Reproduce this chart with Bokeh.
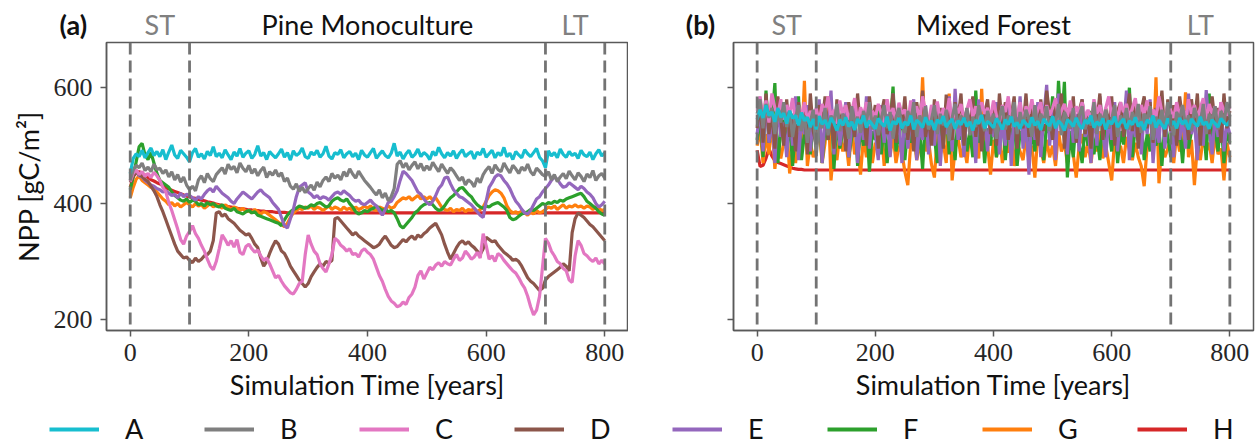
from bokeh.plotting import figure
from bokeh.models import Range1d, FixedTicker, Span, Label, Legend, LegendItem
from bokeh.layouts import row, column
from bokeh.embed import file_html
from bokeh.resources import INLINE

# ---------------- data ----------------
years = list(range(0, 801, 5))
names = ["A", "B", "C", "D", "E", "F", "G", "H"]
colors = ["#17becf", "#7f7f7f", "#e377c2", "#8c564b", "#9467bd", "#2ca02c", "#ff7f0e", "#d62728"]
marker_years = [0, 100, 700, 800]
phase_labels = ["ST", "LT"]
phase_centers = [50, 750]
x_ticks = [0, 200, 400, 600, 800]
y_ticks = [200, 400, 600]
panel_tags = ["(a)", "(b)"]
panel_titles = ["Pine Monoculture", "Mixed Forest"]

# Panel (a): Pine Monoculture, NPP in gC/m2 every 5 years
A_pine = [452, 478, 486, 481, 492, 479, 488, 496, 483, 490,
          481, 493, 476, 489, 501, 484, 478, 492, 486, 480,
          472, 488, 495, 480, 486, 477, 490, 483, 498, 481,
          487, 479, 493, 484, 476, 489, 482, 495, 480, 487,
          491, 478, 485, 500, 482, 488, 476, 490, 484, 479,
          486, 494, 480, 488, 475, 491, 483, 487, 496, 481,
          478, 489, 484, 492, 480, 486, 499, 482, 477, 488,
          485, 493, 479, 486, 490, 481, 487, 476, 492, 484,
          480, 488, 495, 478, 485, 491, 483, 479, 487, 504,
          482, 489, 477, 486, 492, 480, 485, 494, 481, 488,
          484, 476, 490, 483, 497, 486, 479, 488, 482, 491,
          478, 487, 493, 481, 486, 490, 477, 489, 484, 495,
          480, 486, 492, 479, 488, 483, 497, 481, 487, 476,
          490, 484, 479, 493, 486, 481, 488, 495, 480, 474,
          462, 491, 482, 488, 479, 494, 485, 480, 490, 483,
          487, 478, 492, 484, 481, 489, 476, 486, 493, 482,
          488]
B_pine = [440, 458, 466, 462, 470, 457, 463, 455, 468, 459,
          461, 452, 458, 446, 455, 441, 450, 437, 446, 432,
          424, 430, 422, 441, 448, 436, 452, 443, 438, 450,
          456, 462, 451, 468, 459, 464, 453, 470, 461, 455,
          466, 452, 460, 448, 457, 463, 445, 455, 449, 458,
          447, 453, 438, 444, 430, 425, 434, 421, 428, 419,
          426, 432, 423, 437, 429, 440, 446, 438, 452, 444,
          449, 441, 455, 447, 460, 451, 444, 456, 448, 440,
          434, 428, 421, 415, 424, 410, 418, 405, 412, 426,
          468, 474, 462, 470, 458, 466, 472, 460, 469, 457,
          465, 458, 471, 463, 455, 468, 460, 452, 462, 456,
          448, 440, 446, 432, 441, 437, 429, 444, 436, 450,
          458, 464, 452, 467, 459, 455, 470, 461, 453, 466,
          460, 452, 463, 457, 468, 455, 449, 461, 456, 450,
          447, 455, 441, 450, 438, 446, 452, 443, 456, 448,
          441, 453, 447, 438, 451, 445, 457, 440, 448, 452,
          444]
C_pine = [438, 452, 458, 450, 455, 447, 452, 445, 454, 448,
          440, 428, 420, 402, 388, 372, 356, 338, 330, 344,
          352, 362, 348, 340, 328, 318, 304, 292, 286, 300,
          322, 346, 338, 328, 336, 325, 338, 316, 312, 326,
          330, 322, 316, 320, 310, 302, 306, 296, 284, 272,
          276, 266, 258, 252, 246, 244, 252, 262, 266, 312,
          346, 330, 318, 312, 296, 288, 282, 296, 312, 340,
          336, 328, 324, 318, 322, 312, 314, 308, 318, 322,
          316, 312, 304, 290, 276, 266, 252, 240, 232, 228,
          222, 224, 230, 226, 238, 244, 256, 276, 284, 270,
          280, 290, 286, 294, 298, 292, 300, 296, 294, 304,
          312, 302, 306, 318, 312, 304, 308, 316, 306, 348,
          328, 304, 310, 300, 314, 310, 302, 296, 290, 284,
          280, 272, 262, 254, 240, 222, 208, 216, 240, 290,
          340, 332, 318, 310, 300, 296, 288, 284, 268, 264,
          310, 336, 328, 314, 310, 304, 300, 306, 296, 302,
          296]
D_pine = [436, 448, 454, 450, 447, 442, 438, 430, 422, 412,
          398, 386, 372, 358, 344, 330, 318, 312, 306, 308,
          302, 298, 306, 300, 304, 310, 312, 318, 336, 384,
          386, 378, 382, 374, 370, 366, 360, 354, 350, 346,
          348, 340, 330, 324, 306, 292, 300, 314, 326, 336,
          330, 318, 314, 304, 292, 284, 276, 268, 262, 256,
          262, 274, 282, 290, 296, 292, 300, 298, 302, 374,
          376, 370, 364, 358, 352, 346, 350, 344, 340, 336,
          332, 328, 324, 326, 330, 338, 344, 336, 328, 324,
          326, 332, 338, 334, 340, 344, 338, 346, 342, 348,
          352, 358, 362, 366, 356, 346, 330, 316, 304, 314,
          324, 332, 336, 330, 334, 328, 324, 318, 312, 322,
          342, 338, 334, 336, 328, 322, 316, 312, 308, 302,
          304, 300, 292, 282, 272, 266, 262, 256, 250, 254,
          268, 274, 278, 282, 286, 290, 296, 292, 284, 350,
          374, 384, 380, 376, 370, 364, 360, 354, 348, 342,
          336]
E_pine = [440, 450, 454, 448, 446, 440, 436, 432, 430, 426,
          424, 420, 422, 418, 414, 416, 410, 418, 412, 416,
          414, 410, 406, 412, 408, 416, 422, 426, 420, 430,
          424, 418, 414, 410, 404, 400, 408, 414, 420, 416,
          412, 408, 414, 420, 424, 418, 414, 410, 402, 396,
          390, 376, 362, 358, 374, 390, 412, 428, 432, 436,
          420, 416, 410, 414, 408, 412, 410, 406, 412, 418,
          420, 416, 422, 418, 414, 408, 404, 406, 400, 398,
          402, 406, 400, 396, 388, 380, 390, 402, 404, 412,
          422, 440, 456, 452, 446, 440, 430, 420, 416, 408,
          402, 398, 404, 414, 426, 432, 444, 446, 434, 424,
          418, 412, 410, 406, 402, 398, 392, 386, 380, 376,
          404, 428, 436, 446, 450, 448, 440, 434, 426, 414,
          404, 398, 390, 384, 382, 388, 398, 408, 412, 420,
          426, 432, 440, 446, 442, 434, 428, 430, 436, 432,
          428, 424, 430, 426, 420, 416, 410, 400, 394, 398,
          404]
F_pine = [424, 446, 472, 498, 504, 484, 476, 488, 470, 452,
          440, 436, 432, 428, 420, 414, 410, 406, 404, 408,
          402, 406, 404, 398, 400, 396, 402, 398, 400, 396,
          394, 398, 392, 390, 388, 392, 386, 384, 382, 386,
          388, 384, 386, 380, 378, 376, 374, 372, 370, 368,
          366, 362, 372, 380, 386, 390, 392, 396, 394, 392,
          394, 398, 396, 400, 402, 398, 394, 396, 404, 408,
          410, 406, 404, 408, 400, 394, 386, 382, 384, 388,
          386, 390, 392, 396, 392, 388, 390, 386, 388, 384,
          374, 362, 358, 364, 370, 376, 384, 388, 394, 398,
          400, 402, 398, 392, 388, 390, 396, 404, 410, 414,
          420, 426, 428, 422, 416, 412, 404, 398, 394, 392,
          396, 394, 398, 400, 402, 398, 394, 388, 376, 372,
          374, 378, 382, 384, 386, 390, 388, 392, 396, 400,
          398, 402, 400, 404, 402, 406, 404, 408, 410, 412,
          414, 416, 418, 412, 404, 400, 396, 392, 386, 382,
          380]
G_pine = [410, 428, 442, 448, 440, 436, 432, 428, 426, 420,
          414, 408, 404, 398, 402, 396, 400, 394, 398, 402,
          398, 394, 400, 396, 398, 392, 396, 400, 394, 398,
          396, 392, 398, 394, 390, 394, 392, 388, 392, 386,
          388, 384, 390, 386, 382, 386, 384, 380, 376, 372,
          368, 364, 360, 366, 376, 384, 388, 392, 390, 394,
          392, 396, 390, 394, 392, 388, 392, 396, 390, 394,
          392, 388, 394, 390, 392, 388, 394, 390, 392, 396,
          392, 396, 390, 388, 394, 392, 390, 396, 392, 394,
          402, 406, 410, 408, 412, 406, 410, 414, 408, 412,
          408, 412, 406, 410, 402, 394, 390, 388, 392, 386,
          390, 388, 392, 386, 390, 388, 392, 386, 390, 394,
          404, 414, 420, 424, 422, 418, 410, 396, 388, 384,
          386, 382, 388, 384, 380, 386, 382, 388, 384, 386,
          390, 394, 392, 396, 390, 394, 398, 392, 396, 394,
          398, 394, 396, 392, 396, 394, 390, 394, 392, 388,
          390]
H_pine = [428, 446, 454, 455, 452, 449, 445, 441, 439, 436,
          434, 431, 428, 425, 423, 421, 419, 417, 415, 413,
          412, 410, 409, 407, 406, 405, 403, 402, 401, 399,
          398, 397, 396, 395, 394, 393, 392, 391, 391, 390,
          389, 389, 388, 388, 387, 387, 386, 386, 386, 385,
          385, 385, 385, 384, 384, 384, 384, 384, 384, 384,
          384, 384, 384, 384, 384, 384, 384, 384, 384, 384,
          384, 384, 384, 384, 384, 384, 384, 384, 384, 384,
          384, 384, 384, 384, 384, 384, 384, 384, 384, 384,
          384, 384, 384, 384, 384, 384, 384, 384, 384, 384,
          384, 384, 384, 384, 384, 384, 384, 384, 384, 384,
          384, 384, 384, 384, 384, 384, 384, 384, 384, 384,
          384, 384, 384, 384, 384, 384, 384, 384, 384, 384,
          384, 384, 384, 384, 384, 384, 384, 384, 384, 384,
          384, 384, 384, 384, 384, 384, 384, 384, 384, 384,
          384, 384, 384, 384, 384, 384, 384, 384, 384, 384,
          384]

# Panel (b): Mixed Forest
A_mixed = [545, 562, 548, 570, 552, 558, 541, 565, 549, 556,
           538, 560, 547, 552, 535, 557, 543, 549, 532, 546,
           528, 551, 537, 544, 530, 548, 539, 526, 545, 535,
           549, 533, 541, 527, 546, 538, 552, 531, 543, 536,
           529, 547, 539, 533, 550, 526, 542, 537, 548, 530,
           541, 535, 552, 528, 544, 539, 531, 549, 536, 543,
           527, 545, 538, 551, 532, 540, 546, 529, 543, 536,
           548, 533, 541, 526, 544, 538, 553, 530, 542, 537,
           531, 547, 539, 528, 545, 536, 550, 533, 540, 529,
           544, 538, 532, 549, 535, 542, 527, 546, 539, 534,
           551, 530, 543, 537, 526, 545, 540, 533, 548, 536,
           529, 544, 538, 552, 531, 541, 535, 547, 528, 543,
           537, 550, 532, 540, 546, 529, 543, 536, 549, 533,
           541, 527, 545, 538, 552, 531, 544, 536, 529, 547,
           535, 542, 530, 548, 537, 544, 528, 546, 539, 533,
           550, 536, 541, 529, 545, 538, 532, 547, 540, 535,
           543]
B_mixed = [555, 580, 530, 572, 548, 565, 520, 558, 540, 575,
           532, 560, 515, 548, 570, 525, 552, 505, 540, 562,
           482, 548, 530, 565, 518, 552, 540, 572, 525, 555,
           545, 512, 568, 535, 550, 522, 560, 540, 575, 528,
           552, 518, 545, 570, 530, 558, 512, 548, 565, 535,
           522, 560, 540, 575, 515, 552, 538, 568, 528, 545,
           570, 520, 555, 535, 562, 508, 548, 572, 530, 552,
           540, 565, 518, 550, 532, 570, 545, 525, 560, 538,
           555, 512, 548, 568, 528, 552, 540, 575, 520, 558,
           535, 562, 545, 515, 570, 530, 555, 540, 568, 525,
           550, 538, 572, 518, 558, 545, 530, 565, 512, 552,
           568, 528, 548, 535, 575, 520, 555, 542, 562, 530,
           545, 570, 515, 552, 538, 565, 528, 558, 540, 572,
           522, 555, 545, 568, 510, 550, 535, 562, 528, 575,
           540, 518, 558, 545, 570, 532, 552, 525, 565, 548,
           535, 572, 520, 555, 542, 568, 528, 560, 538, 575,
           550]
C_mixed = [560, 585, 548, 578, 540, 590, 565, 552, 580, 545,
           570, 555, 582, 538, 568, 550, 575, 542, 560, 548,
           565, 540, 572, 555, 585, 548, 562, 538, 578, 552,
           570, 545, 558, 582, 540, 566, 552, 575, 535, 560,
           548, 572, 556, 538, 580, 550, 565, 542, 574, 555,
           562, 540, 578, 552, 568, 545, 585, 558, 540, 570,
           553, 576, 542, 565, 550, 582, 538, 568, 556, 572,
           545, 562, 580, 550, 568, 540, 575, 555, 565, 548,
           578, 552, 540, 570, 558, 585, 545, 565, 550, 575,
           540, 568, 555, 580, 548, 562, 575, 538, 570, 552,
           565, 582, 545, 560, 572, 550, 578, 542, 568, 555,
           575, 548, 562, 540, 580, 555, 570, 545, 565, 585,
           550, 568, 542, 575, 558, 572, 548, 565, 582, 545,
           570, 555, 578, 540, 562, 550, 585, 558, 545, 572,
           560, 548, 575, 552, 568, 542, 580, 555, 570, 548,
           565, 582, 545, 572, 555, 568, 540, 575, 560, 552,
           568]
D_mixed = [530, 575, 505, 590, 520, 560, 495, 585, 545, 500,
           580, 515, 555, 490, 575, 530, 565, 485, 590, 525,
           500, 570, 540, 585, 510, 555, 495, 580, 530, 565,
           490, 575, 545, 515, 590, 525, 560, 500, 585, 540,
           570, 495, 555, 580, 520, 545, 590, 505, 565, 530,
           585, 510, 560, 490, 575, 540, 595, 515, 550, 500,
           580, 525, 565, 495, 588, 535, 510, 575, 545, 590,
           500, 560, 530, 585, 515, 570, 490, 555, 580, 520,
           565, 500, 590, 535, 575, 510, 550, 585, 495, 560,
           530, 590, 515, 570, 545, 500, 580, 525, 595, 555,
           510, 575, 540, 590, 495, 565, 530, 585, 505, 560,
           580, 520, 555, 495, 575, 540, 590, 510, 565, 530,
           585, 500, 560, 575, 515, 550, 590, 525, 570, 495,
           560, 585, 530, 575, 505, 565, 540, 595, 515, 580,
           525, 570, 500, 585, 545, 560, 510, 580, 535, 590,
           500, 575, 550, 520, 585, 540, 565, 505, 590, 530,
           560]
E_mixed = [520, 565, 490, 580, 505, 550, 470, 575, 515, 540,
           480, 560, 500, 585, 475, 545, 520, 570, 490, 555,
           510, 580, 470, 550, 525, 595, 485, 560, 500, 540,
           575, 480, 530, 565, 470, 545, 510, 585, 495, 550,
           520, 475, 570, 505, 555, 480, 590, 515, 540, 470,
           560, 495, 545, 580, 475, 535, 510, 570, 485, 555,
           500, 575, 465, 545, 520, 585, 490, 598, 510, 540,
           480, 565, 525, 550, 470, 580, 505, 545, 490, 560,
           515, 575, 485, 540, 500, 570, 465, 555, 520, 585,
           495, 545, 450, 565, 510, 575, 480, 550, 605, 500,
           560, 475, 590, 520, 545, 485, 570, 505, 555, 490,
           580, 515, 540, 470, 565, 500, 585, 525, 480, 550,
           510, 575, 490, 560, 530, 595, 475, 545, 515, 570,
           485, 555, 520, 580, 470, 540, 505, 575, 495, 560,
           525, 480, 570, 510, 550, 495, 590, 520, 545, 475,
           565, 500, 596, 530, 485, 555, 515, 575, 490, 540,
           520]
F_mixed = [510, 550, 480, 595, 505, 540, 608, 470, 525, 560,
           490, 545, 465, 530, 585, 475, 520, 555, 485, 540,
           500, 560, 470, 535, 510, 580, 460, 545, 495, 525,
           555, 480, 515, 570, 465, 530, 500, 545, 455, 525,
           510, 565, 485, 540, 470, 530, 602, 490, 520, 555,
           475, 535, 505, 560, 480, 525, 460, 550, 495, 540,
           515, 470, 545, 500, 565, 485, 530, 475, 555, 510,
           540, 490, 525, 480, 595, 505, 545, 470, 530, 500,
           555, 480, 520, 565, 475, 535, 500, 550, 465, 525,
           510, 545, 470, 530, 490, 560, 505, 475, 540, 520,
           585, 495, 612, 530, 610, 445, 525, 480, 550, 505,
           470, 535, 500, 560, 485, 520, 475, 545, 510, 530,
           490, 555, 470, 525, 502, 548, 600, 480, 535, 510,
           545, 475, 520, 490, 560, 500, 530, 465, 540, 515,
           480, 550, 505, 530, 470, 545, 495, 525, 560, 485,
           520, 540, 475, 590, 510, 530, 490, 545, 470, 525,
           505]
G_mixed = [500, 530, 470, 520, 485, 545, 460, 510, 478, 505,
           540, 452, 495, 470, 520, 488, 612, 465, 505, 480,
           495, 530, 470, 505, 585, 440, 500, 475, 520, 490,
           510, 465, 530, 485, 500, 450, 515, 480, 525, 470,
           505, 490, 530, 465, 510, 482, 520, 470, 500, 488,
           455, 432, 505, 520, 475, 498, 618, 490, 510, 468,
           445, 520, 485, 505, 470, 590, 440, 495, 515, 480,
           500, 470, 525, 490, 505, 478, 598, 485, 500, 450,
           510, 480, 520, 470, 500, 488, 530, 465, 505, 490,
           475, 515, 485, 500, 445, 520, 495, 470, 510, 480,
           500, 465, 525, 490, 505, 470, 515, 485, 445, 500,
           520, 480, 505, 470, 510, 490, 525, 478, 500, 470,
           440, 510, 485, 500, 470, 515, 492, 475, 505, 480,
           465, 430, 500, 520, 485, 618, 435, 505, 480, 495,
           510, 470, 520, 490, 505, 592, 480, 510, 432, 500,
           475, 515, 490, 505, 470, 520, 485, 495, 440, 505,
           480]
H_mixed = [492, 464, 466, 478, 495, 482, 474, 471, 469, 467,
           465, 463, 461, 460, 459, 459, 458, 458, 458, 458,
           458, 458, 458, 458, 458, 458, 458, 458, 458, 458,
           458, 458, 458, 458, 458, 458, 458, 458, 458, 458,
           458, 458, 458, 458, 458, 458, 458, 458, 458, 458,
           458, 458, 458, 458, 458, 458, 458, 458, 458, 458,
           458, 458, 458, 458, 458, 458, 458, 458, 458, 458,
           458, 458, 458, 458, 458, 458, 458, 458, 458, 458,
           458, 458, 458, 458, 458, 458, 458, 458, 458, 458,
           458, 458, 458, 458, 458, 458, 458, 458, 458, 458,
           458, 458, 458, 458, 458, 458, 458, 458, 458, 458,
           458, 458, 458, 458, 458, 458, 458, 458, 458, 458,
           458, 458, 458, 458, 458, 458, 458, 458, 458, 458,
           458, 458, 458, 458, 458, 458, 458, 458, 458, 458,
           458, 458, 458, 458, 458, 458, 458, 458, 458, 458,
           458, 458, 458, 458, 458, 458, 458, 458, 458, 458,
           458]

pine_series = [A_pine, B_pine, C_pine, D_pine, E_pine, F_pine, G_pine, H_pine]
mixed_series = [A_mixed, B_mixed, C_mixed, D_mixed, E_mixed, F_mixed, G_mixed, H_mixed]
legend_series = pine_series[:4] + mixed_series[4:]

# ---------------- styling / layout ----------------
SANS = "Lato"
SERIF = "Liberation Serif"
FRAME_COLOR = "#595959"
TEXT_PX = "27px"
X0, X1 = -40, 840
y_range = Range1d(181, 678)

HEADER_H = 41
HEADER_TEXT_Y = 24
FRAME_H = 288
TOP_GAP = 1
BOTTOM_H = 70
LEGEND_H = 42
# (figure width, frame left border, frame width) for each panel
panel_geom = [(628, 106, 522), (630, 105, 520)]
legend_starts = [49, 672]


def make_header(idx):
    w, left, fw = panel_geom[idx]
    per_px = (X1 - X0) / fw
    h = figure(width=w, height=HEADER_H, min_border=0, toolbar_location=None,
               output_backend="svg", x_axis_location=None, y_axis_location=None,
               x_range=Range1d(X0 - left * per_px, X1 + (w - left - fw) * per_px),
               y_range=Range1d(HEADER_H, 0))
    h.grid.visible = False
    h.outline_line_color = None
    h.add_layout(Label(x=-96, y=HEADER_TEXT_Y, text=panel_tags[idx], text_font=SANS,
                       text_font_style="bold", text_font_size=TEXT_PX,
                       text_align="center", text_baseline="middle", text_color="#111111"))
    h.add_layout(Label(x=400, y=HEADER_TEXT_Y, text=panel_titles[idx], text_font=SANS,
                       text_font_size=TEXT_PX, text_align="center",
                       text_baseline="middle", text_color="#111111"))
    for lab, xc in zip(phase_labels, phase_centers):
        h.add_layout(Label(x=xc, y=HEADER_TEXT_Y, text=lab, text_font=SANS,
                           text_font_size=TEXT_PX, text_align="center",
                           text_baseline="middle", text_color="#808080"))
    return h


def make_panel(idx, series, show_ylabels):
    w, left, fw = panel_geom[idx]
    p = figure(frame_width=fw, frame_height=FRAME_H,
               x_range=Range1d(X0, X1), y_range=y_range,
               output_backend="svg", toolbar_location=None,
               min_border_left=left, min_border_right=w - left - fw,
               min_border_top=TOP_GAP, min_border_bottom=BOTTOM_H,
               background_fill_color="white", border_fill_color="white")
    p.grid.visible = False
    p.outline_line_color = FRAME_COLOR
    p.outline_line_width = 1.5
    for ax in (p.xaxis[0], p.yaxis[0]):
        ax.axis_line_color = FRAME_COLOR
        ax.axis_line_width = 1.5
        ax.major_tick_line_color = FRAME_COLOR
        ax.major_tick_line_width = 1.5
        ax.major_tick_out = 6
        ax.major_tick_in = 0
        ax.minor_tick_line_color = None
        ax.major_label_text_font = SERIF
        ax.major_label_text_font_size = "26px"
        ax.major_label_text_color = "#262626"
        ax.axis_label_text_font = SANS
        ax.axis_label_text_font_size = TEXT_PX
        ax.axis_label_text_font_style = "normal"
        ax.axis_label_text_color = "#111111"
    p.xaxis.ticker = FixedTicker(ticks=x_ticks)
    p.yaxis.ticker = FixedTicker(ticks=y_ticks)
    p.xaxis.major_label_standoff = 7
    p.yaxis.major_label_standoff = 8
    p.xaxis.axis_label = "Simulation Time [years]"
    p.xaxis.axis_label_standoff = 4
    if show_ylabels:
        p.yaxis.axis_label = "NPP [gC/m²]"
        p.yaxis.axis_label_standoff = 6
    else:
        p.yaxis.major_label_overrides = {t: "" for t in y_ticks}

    for k in reversed(range(len(names))):
        p.line(years, series[k], color=colors[k], line_width=3.2)

    for xm in marker_years:
        p.add_layout(Span(location=xm, dimension="height", line_color="#737373",
                          line_width=2.8, line_dash="12 6"))
    return p


def make_legend_row():
    total_w = sum(g[0] for g in panel_geom)
    lf = figure(width=total_w, height=LEGEND_H, min_border=0, toolbar_location=None,
                output_backend="svg", x_axis_location=None, y_axis_location=None,
                x_range=Range1d(0, 1), y_range=Range1d(0, 1))
    lf.grid.visible = False
    lf.outline_line_color = None
    # legend keys: the real series, drawn outside this strip's visible ranges
    proxies = [lf.line(years, legend_series[k], color=colors[k], line_width=3.8)
               for k in range(len(names))]
    for g, start in enumerate(legend_starts):
        items = [LegendItem(label=names[k], renderers=[proxies[k]]) for k in range(4 * g, 4 * g + 4)]
        leg = Legend(items=items, location=(start, 0), orientation="horizontal",
                     glyph_width=50, glyph_height=20, label_standoff=26, label_width=60,
                     spacing=19, padding=0, margin=0, border_line_color=None,
                     background_fill_alpha=0, label_text_font=SANS,
                     label_text_font_size=TEXT_PX, label_text_color="#111111")
        lf.add_layout(leg)
    return lf


layout = column(
    row(make_header(0), make_header(1)),
    row(make_panel(0, pine_series, True), make_panel(1, mixed_series, False)),
    make_legend_row(),
)
open("out.html", "w").write(file_html(layout, INLINE))
